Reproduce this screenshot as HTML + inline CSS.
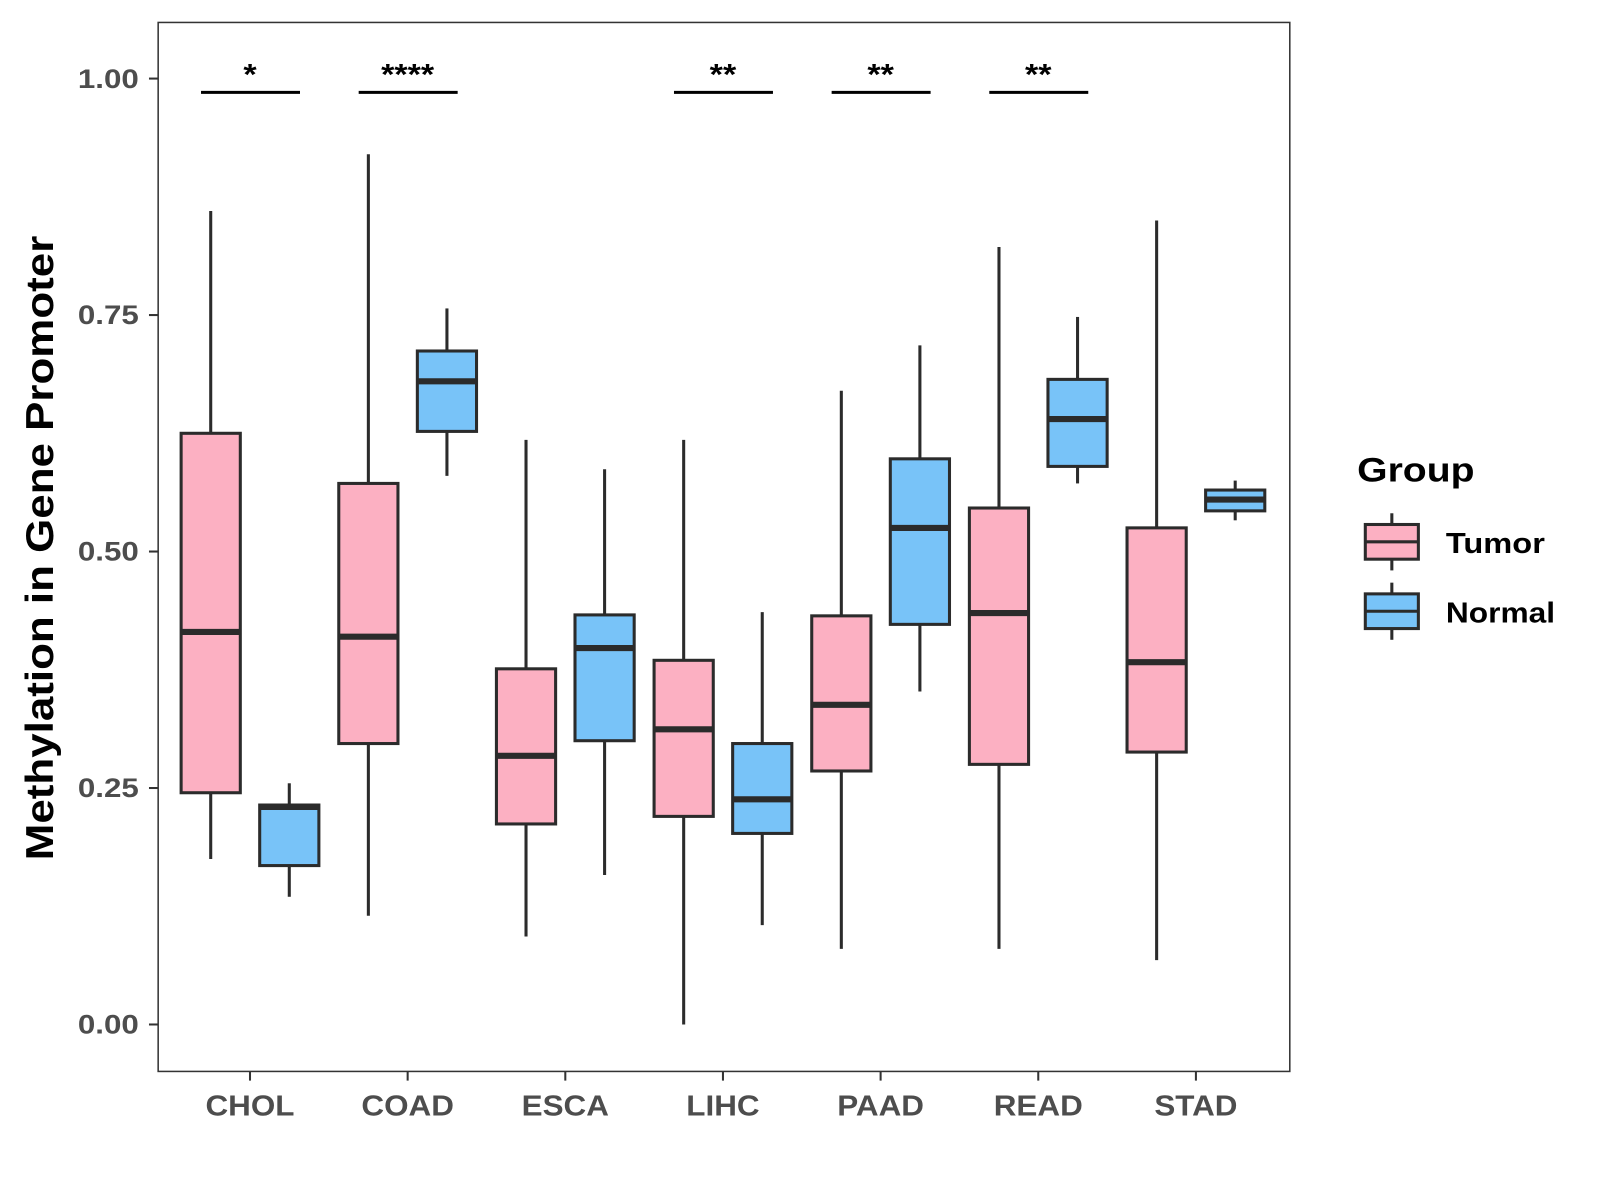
<!DOCTYPE html>
<html><head><meta charset="utf-8"><style>html,body{margin:0;padding:0;background:#fff}svg{display:block}</style></head>
<body>
<svg id="chart" width="1600" height="1200" viewBox="0 0 1568 1176" preserveAspectRatio="none" xmlns="http://www.w3.org/2000/svg" font-family="Liberation Sans, Arial, sans-serif">
<rect x="0" y="0" width="1568" height="1176" fill="#fff"/>
<rect x="155" y="22" width="1109" height="1028" fill="#fff" stroke="#333" stroke-width="1.5"/>
<g id="yaxis"></g><g id="xaxis"></g><g id="boxes"></g><g id="sig"></g>
<text transform="translate(52,537) rotate(-90)" text-anchor="middle" font-size="38" font-weight="bold" fill="#000" textLength="612" lengthAdjust="spacingAndGlyphs">Methylation in Gene Promoter</text>
<g>
<text x="1330" y="472" font-size="34" font-weight="bold" textLength="115" lengthAdjust="spacingAndGlyphs">Group</text>
<g>
<line x1="1364" y1="503" x2="1364" y2="559" stroke="#2b2b2b" stroke-width="3"/>
<rect x="1338" y="514" width="52" height="34" fill="#fcb0c2" stroke="#2b2b2b" stroke-width="3"/>
<line x1="1338" y1="531" x2="1390" y2="531" stroke="#2b2b2b" stroke-width="3"/>
<text x="1417" y="542" font-size="28" font-weight="bold" textLength="97" lengthAdjust="spacingAndGlyphs">Tumor</text></g>
<g>
<line x1="1364" y1="571" x2="1364" y2="627" stroke="#2b2b2b" stroke-width="3"/>
<rect x="1338" y="582" width="52" height="34" fill="#78c3f8" stroke="#2b2b2b" stroke-width="3"/>
<line x1="1338" y1="599" x2="1390" y2="599" stroke="#2b2b2b" stroke-width="3"/>
<text x="1417" y="610" font-size="28" font-weight="bold" textLength="107" lengthAdjust="spacingAndGlyphs">Normal</text></g>
</g>
</svg>
<script>
const categories=["CHOL","COAD","ESCA","LIHC","PAAD","READ","STAD"];
const tumorMin=[0.175,0.115,0.093,0.0,0.08,0.08,0.068];
const tumorQ1=[0.245,0.297,0.212,0.22,0.268,0.275,0.288];
const tumorMed=[0.415,0.41,0.284,0.312,0.338,0.435,0.383];
const tumorQ3=[0.625,0.572,0.376,0.385,0.432,0.546,0.525];
const tumorMax=[0.86,0.92,0.618,0.618,0.67,0.822,0.85];
const normalMin=[0.135,0.58,0.158,0.105,0.352,0.572,0.533];
const normalQ1=[0.168,0.627,0.30,0.202,0.423,0.59,0.543];
const normalMed=[0.23,0.68,0.398,0.238,0.525,0.64,0.555];
const normalQ3=[0.232,0.712,0.433,0.297,0.598,0.682,0.565];
const normalMax=[0.255,0.757,0.587,0.436,0.718,0.748,0.575];
const yTicks=[0,0.25,0.5,0.75,1.0];
const yTickLabels=["0.00","0.25","0.50","0.75","1.00"];
const sigCats=["CHOL","COAD","LIHC","PAAD","READ"];
const sigLabels=["*","****","**","**","**"];
const NS="http://www.w3.org/2000/svg";
const y=v=>1004-v*927;
const x=i=>245+i*154.5;
function mk(tag,attrs,parent){const e=document.createElementNS(NS,tag);for(const k in attrs)e.setAttribute(k,attrs[k]);parent.appendChild(e);return e;}
function widen(t,f){const L=t.getComputedTextLength();if(L>0){t.setAttribute('textLength',(L*f).toFixed(1));t.setAttribute('lengthAdjust','spacingAndGlyphs');}}
const ya=document.getElementById('yaxis'),xa=document.getElementById('xaxis'),bx=document.getElementById('boxes'),sg=document.getElementById('sig');
yTicks.forEach((t,i)=>{
 const l=mk('line',{x1:146,x2:155,y1:y(t),y2:y(t),stroke:'#333','stroke-width':2},ya);
 
 
 const tx=mk('text',{x:136,y:y(t)+9,'text-anchor':'end','font-size':26,'font-weight':'bold',fill:'#4d4d4d'},ya);
 tx.textContent=yTickLabels[i];
 
 
 widen(tx,1.18);
});
categories.forEach((c,i)=>{
 const l=mk('line',{x1:x(i),x2:x(i),y1:1050,y2:1059,stroke:'#333','stroke-width':2},xa);
 
 
 const tx=mk('text',{x:x(i),y:1093,'text-anchor':'middle','font-size':28,'font-weight':'bold',fill:'#4d4d4d'},xa);
 tx.textContent=c;
 
 
 widen(tx,1.1);
});
function box(cx,mn,q1,md,q3,mx,fill,name){
 const g=mk('g',{},bx);
 
 
 mk('line',{x1:cx,x2:cx,y1:y(mx),y2:y(q3),stroke:'#2b2b2b','stroke-width':3},g);
 mk('line',{x1:cx,x2:cx,y1:y(q1),y2:y(mn),stroke:'#2b2b2b','stroke-width':3},g);
 mk('rect',{x:cx-29,y:y(q3),width:58,height:y(q1)-y(q3),fill:fill,stroke:'#2b2b2b','stroke-width':3},g);
 mk('line',{x1:cx-29,x2:cx+29,y1:y(md),y2:y(md),stroke:'#2b2b2b','stroke-width':6},g);
}
categories.forEach((c,i)=>{
 box(x(i)-38.5,tumorMin[i],tumorQ1[i],tumorMed[i],tumorQ3[i],tumorMax[i],'#fcb0c2','box-tumor-'+c.toLowerCase());
 box(x(i)+38.5,normalMin[i],normalQ1[i],normalMed[i],normalQ3[i],normalMax[i],'#78c3f8','box-normal-'+c.toLowerCase());
});
sigCats.forEach((c,k)=>{
 const i=categories.indexOf(c);
 const l=mk('line',{x1:x(i)-48,x2:x(i)+49,y1:90.5,y2:90.5,stroke:'#000','stroke-width':3},sg);
 
 
 const t=mk('text',{x:x(i),y:83,'text-anchor':'middle','font-size':29,'font-weight':'bold',fill:'#000'},sg);
 t.textContent=sigLabels[k];
 
 
 widen(t,1.15);
});
</script>
</body></html>
